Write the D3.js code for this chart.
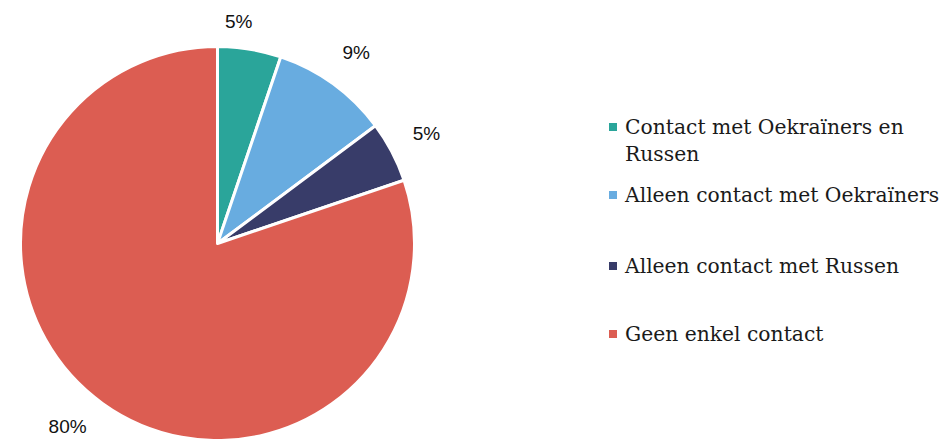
<!DOCTYPE html>
<html><head><meta charset="utf-8">
<script src="https://cdn.jsdelivr.net/npm/d3@7"></script>
<style>html,body{margin:0;padding:0;background:#fff;overflow:hidden}</style>
</head><body>
<svg id="chart" width="943" height="439"></svg>
<script>
const categories = ["Contact met Oekraïners en Russen", "Alleen contact met Oekraïners", "Alleen contact met Russen", "Geen enkel contact"];
const legendLines = [["Contact met Oekraïners en", "Russen"], ["Alleen contact met Oekraïners"], ["Alleen contact met Russen"], ["Geen enkel contact"]];
const values = [5.2, 9.6, 5.0, 80.2];
const valueLabels = ["5%", "9%", "5%", "80%"];
const colors = ["#2aa59a", "#68ace0", "#383c69", "#dc5d52"];

const svg = d3.select("#chart");
const cx = 217.5, cy = 243.5, R = 197;
const g = svg.append("g").attr("transform", `translate(${cx},${cy})`);
const pie = d3.pie().sort(null).value(d => d.v);
const data = pie(values.map((v, i) => ({v, i})));
const arc = d3.arc().innerRadius(0).outerRadius(R);
g.selectAll("path").data(data).join("path")
  .attr("d", arc)
  .attr("fill", d => colors[d.data.i])
  .attr("stroke", "#fff").attr("stroke-width", 3).attr("stroke-linejoin", "round");

const labelArc = d3.arc().innerRadius(236).outerRadius(236);
g.selectAll("text.lbl").data(data).join("text").attr("class", "lbl")
  .attr("transform", d => {
    let [x, y] = labelArc.centroid(d);
    if (y < -222) { x = x * 0.55; y = -222; }
    if (y > 183) { x = x * 1.09; y = 183; }
    return `translate(${x},${y})`;
  })
  .attr("text-anchor", "middle").attr("dominant-baseline", "central")
  .attr("font-family", "Liberation Sans, Arial, sans-serif").attr("font-size", 19)
  .attr("fill", "#111")
  .text(d => valueLabels[d.data.i]);

const legendY = [134, 202, 273, 341];
const lg = svg.append("g").attr("transform", "translate(609,0)");
categories.forEach((c, i) => {
  lg.append("rect").attr("x", 0).attr("y", legendY[i] - 11).attr("width", 8).attr("height", 8).attr("fill", colors[i]);
  const t = lg.append("text").attr("x", 16).attr("y", legendY[i])
    .attr("font-family", "DejaVu Serif, serif").attr("font-size", 20.3).attr("fill", "#1a1a1a");
  legendLines[i].forEach((l, j) => t.append("tspan").attr("x", 16).attr("dy", j ? 27 : 0).text(l));
});
</script>
</body></html>
